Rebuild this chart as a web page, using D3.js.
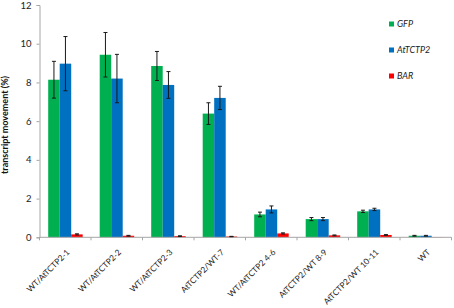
<!DOCTYPE html>
<html><head><meta charset="utf-8">
<script src="https://cdn.jsdelivr.net/npm/d3@7"></script>
<style>body{margin:0;background:#fff}svg{display:block}text{font-family:Lato,"Open Sans",sans-serif}</style>
</head><body><svg id="c" width="454" height="308"></svg>
<script>
const categories = ["WT/AtTCTP2-1","WT/AtTCTP2-2","WT/AtTCTP2-3","AtTCTP2/WT-7","WT/AtTCTP2 4-6","AtTCTP2/WT 8-9","AtTCTP2/WT 10-11","WT"];
const seriesNames = ["GFP","AtTCTP2","BAR"];
const gfpValues = [8.14, 9.43, 8.85, 6.39, 1.18, 0.94, 1.34, 0.08];
const gfpErrors = [0.95, 1.15, 0.75, 0.56, 0.12, 0.08, 0.06, 0.02];
const tctpValues = [8.97, 8.2, 7.87, 7.2, 1.44, 0.94, 1.44, 0.08];
const tctpErrors = [1.4, 1.25, 0.69, 0.6, 0.18, 0.08, 0.06, 0.02];
const barValues = [0.15, 0.08, 0.06, 0.04, 0.2, 0.1, 0.12, 0.01];
const barErrors = [0.03, 0.02, 0.02, 0.01, 0.03, 0.02, 0.02, 0.0];
const yTicks = [0, 2, 4, 6, 8, 10, 12];
const colors = ["#00b050", "#0070c0", "#ff0000"];

const values = [gfpValues, tctpValues, barValues];
const errors = [gfpErrors, tctpErrors, barErrors];

const svg = d3.select("#c");
const y = d3.scaleLinear().domain([0, 12]).range([237.3, 5]);
const x = d3.scaleBand().domain(categories).range([39.5, 451.5]).padding(0);
const xs = d3.scaleBand().domain(seriesNames).range([8.7, x.bandwidth() - 8.3]).padding(0);

// y axis
const yAxis = d3.axisLeft(y).tickValues(yTicks).tickSize(3).tickPadding(5).tickFormat(d3.format("d"));
const gy = svg.append("g").attr("transform", "translate(39.5,0)").call(yAxis);
gy.select(".domain").attr("stroke", "#a6a6a6");
gy.selectAll(".tick line").attr("stroke", "#a6a6a6");
gy.selectAll(".tick text").attr("fill", "#222").attr("font-size", 9.5).attr("font-family", "Lato,sans-serif");

// bars
const data = [];
categories.forEach((c, i) => seriesNames.forEach((s, j) => data.push({c, s, v: values[j][i], e: errors[j][i], j})));
const g = svg.append("g");
g.selectAll("rect.bar").data(data).join("rect").attr("class", "bar")
  .attr("x", d => x(d.c) + xs(d.s)).attr("width", xs.bandwidth())
  .attr("y", d => y(d.v)).attr("height", d => y(0) - y(d.v))
  .attr("fill", d => colors[d.j]);

// x axis
const xAxisG = svg.append("g").attr("transform", `translate(0,${y(0)})`);
xAxisG.append("line").attr("x1", 39.5).attr("x2", 451.5).attr("stroke", "#a6a6a6");
const boundaries = categories.map(c => x(c)).concat([x.range()[1]]);
xAxisG.selectAll("line.tk").data(boundaries).join("line").attr("class", "tk")
  .attr("x1", d => d).attr("x2", d => d).attr("y1", 0).attr("y2", 3).attr("stroke", "#a6a6a6");
xAxisG.selectAll("text").data(categories).join("text")
  .attr("transform", d => `translate(${x(d) + x.bandwidth() / 2 + 5},${15.5}) rotate(-45)`)
  .attr("text-anchor", "end").attr("font-size", 8.3).attr("fill", "#222").text(d => d);

// error bars
const eb = svg.append("g").attr("stroke", "#1a1a1a").attr("stroke-width", 1);
data.filter(d => d.e > 0).forEach(d => {
  const cx = x(d.c) + xs(d.s) + xs.bandwidth() / 2;
  const t = y(d.v + d.e), b = y(Math.max(0, d.v - d.e));
  eb.append("line").attr("x1", cx).attr("x2", cx).attr("y1", t).attr("y2", b);
  eb.append("line").attr("x1", cx - 2).attr("x2", cx + 2).attr("y1", t).attr("y2", t);
  eb.append("line").attr("x1", cx - 2).attr("x2", cx + 2).attr("y1", b).attr("y2", b);
});

// y title
svg.append("text").attr("transform", "translate(8,125) rotate(-90)").attr("text-anchor", "middle")
  .attr("font-size", 9).attr("font-weight", "bold").attr("fill", "#111").text("transcript movement (%)");

// legend
const lg = svg.append("g").attr("transform", "translate(389,0)");
seriesNames.forEach((s, j) => {
  const cy = 24 + j * 26;
  lg.append("rect").attr("x", 0).attr("y", cy - 2.5).attr("width", 5).attr("height", 5).attr("fill", colors[j]);
  lg.append("text").attr("x", 8).attr("y", cy + 3.3).attr("font-size", 9).attr("font-style", "italic").attr("fill", "#222").text(s);
});
</script></body></html>
